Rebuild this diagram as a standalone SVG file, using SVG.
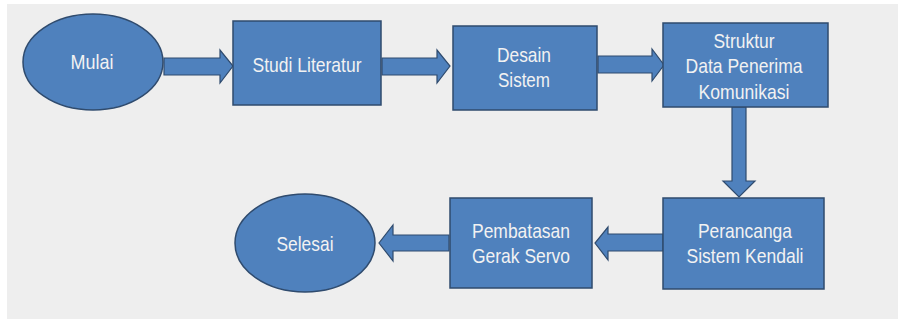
<svg xmlns="http://www.w3.org/2000/svg" width="898" height="322" viewBox="0 0 898 322">
<style>
.shape{fill:#4f81bd;stroke:#2f4b6e;stroke-width:1.5}
.arr{fill:#4f81bd;stroke:#2f4b6e;stroke-width:1.2;stroke-linejoin:miter}
text{font-family:"Liberation Sans Narrow","Arial Narrow","Liberation Sans",sans-serif;font-size:21px;fill:#f2f2f2;text-anchor:middle}
</style>
<rect x="0" y="0" width="898" height="322" fill="#ffffff"/>
<rect x="7" y="4" width="891" height="315" fill="#eeeeee"/>
<g id="connectors">
<polygon class="arr" points="164,58 220,58 220,50 233,66 220,83 220,75 164,75"/>
<polygon class="arr" points="382,58 437,58 437,50 450,66 437,83 437,75 382,75"/>
<polygon class="arr" points="598,56 652,56 652,49 664,65 652,81 652,73 598,73"/>
<polygon class="arr" points="732,107 746,107 746,181 755,181 739,197 723,181 732,181"/>
<polygon class="arr" points="663,234 608,234 608,227 595,243 608,260 608,251 663,251"/>
<polygon class="arr" points="449,235 393,235 393,225 379,243 393,261 393,251 449,251"/>
</g>
<g id="mulai">
<ellipse class="shape" cx="93" cy="62" rx="70" ry="48"/>
<text x="92" y="69" textLength="43" lengthAdjust="spacingAndGlyphs">Mulai</text>
</g>
<g id="studi">
<rect class="shape" x="233" y="21" width="148" height="84"/>
<text x="307" y="72" textLength="109" lengthAdjust="spacingAndGlyphs">Studi Literatur</text>
</g>
<g id="desain">
<rect class="shape" x="453" y="26" width="144" height="84"/>
<text x="524" y="62" textLength="54" lengthAdjust="spacingAndGlyphs">Desain</text>
<text x="524" y="87" textLength="52" lengthAdjust="spacingAndGlyphs">Sistem</text>
</g>
<g id="struktur">
<rect class="shape" x="663" y="23" width="165" height="84"/>
<text x="744" y="48" textLength="61" lengthAdjust="spacingAndGlyphs">Struktur</text>
<text x="744" y="73" textLength="117" lengthAdjust="spacingAndGlyphs">Data Penerima</text>
<text x="744" y="99" textLength="91" lengthAdjust="spacingAndGlyphs">Komunikasi</text>
</g>
<g id="perancanga">
<rect class="shape" x="663" y="198" width="161" height="91"/>
<text x="745" y="238" textLength="94" lengthAdjust="spacingAndGlyphs">Perancanga</text>
<text x="745" y="263" textLength="117" lengthAdjust="spacingAndGlyphs">Sistem Kendali</text>
</g>
<g id="pembatasan">
<rect class="shape" x="450" y="198" width="142" height="90"/>
<text x="521" y="238" textLength="98" lengthAdjust="spacingAndGlyphs">Pembatasan</text>
<text x="521" y="263" textLength="98" lengthAdjust="spacingAndGlyphs">Gerak Servo</text>
</g>
<g id="selesai">
<ellipse class="shape" cx="305" cy="243" rx="70" ry="49"/>
<text x="305" y="251" textLength="57" lengthAdjust="spacingAndGlyphs">Selesai</text>
</g>
</svg>
